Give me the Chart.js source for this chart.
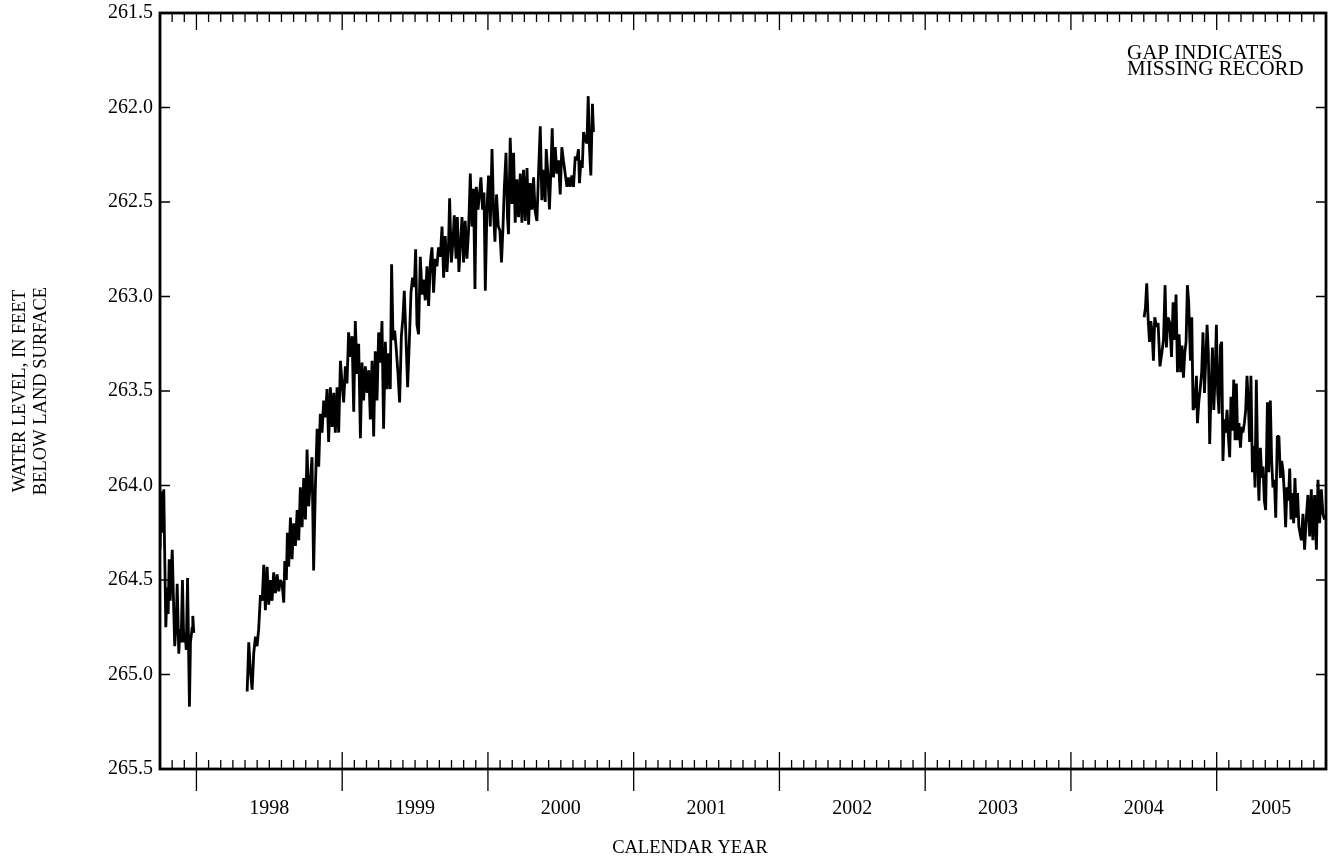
<!DOCTYPE html>
<html>
<head>
<meta charset="utf-8">
<title>Water level hydrograph</title>
<script src="https://cdn.jsdelivr.net/npm/chart.js@4.4.1/dist/chart.umd.min.js"></script>
<style>
  html, body { margin: 0; padding: 0; background: #fff; }
  #chart { display: block; }
</style>
</head>
<body>
<canvas id="chart" width="1328" height="863"></canvas>
<script>
// Record pieces (decimal year, feet below land surface)
const seg1Years = [
  1997.750, 1997.758, 1997.765, 1997.776, 1997.781, 1997.790, 1997.799, 1997.806, 1997.813, 1997.820,
  1997.834, 1997.845, 1997.851, 1997.861, 1997.868, 1997.879, 1997.886, 1997.895, 1997.904, 1997.913,
  1997.923, 1997.930, 1997.939, 1997.952, 1997.959, 1997.971, 1997.975, 1997.982
];
const seg1Levels = [
  264.34, 264.03, 264.25, 264.02, 264.30, 264.75, 264.54, 264.68, 264.39, 264.61,
  264.34, 264.68, 264.85, 264.73, 264.52, 264.89, 264.76, 264.83, 264.50, 264.83,
  264.78, 264.87, 264.49, 265.17, 264.83, 264.75, 264.69, 264.78
];

const seg2Years = [
  1998.348, 1998.359, 1998.370, 1998.382, 1998.393, 1998.405, 1998.416, 1998.427, 1998.439, 1998.451,
  1998.462, 1998.473, 1998.485, 1998.496, 1998.508, 1998.519, 1998.530, 1998.542, 1998.554, 1998.565,
  1998.576, 1998.588, 1998.599, 1998.606, 1998.617, 1998.624, 1998.633, 1998.645, 1998.656, 1998.667,
  1998.679, 1998.691, 1998.702, 1998.713, 1998.725, 1998.736, 1998.748, 1998.759, 1998.770, 1998.782,
  1998.793, 1998.804, 1998.816, 1998.828, 1998.839, 1998.850, 1998.862, 1998.873, 1998.885, 1998.896,
  1998.907, 1998.919, 1998.931, 1998.942, 1998.953, 1998.965, 1998.976, 1998.988, 1998.999, 1999.010,
  1999.022, 1999.033, 1999.044, 1999.056, 1999.068, 1999.079, 1999.090, 1999.102, 1999.113, 1999.125,
  1999.136, 1999.147, 1999.159, 1999.171, 1999.182, 1999.193, 1999.205, 1999.216, 1999.227, 1999.239,
  1999.250, 1999.262, 1999.273, 1999.284, 1999.296, 1999.308, 1999.319, 1999.330, 1999.339, 1999.349,
  1999.360, 1999.371, 1999.383, 1999.394, 1999.406, 1999.417, 1999.426, 1999.435, 1999.449, 1999.461,
  1999.472, 1999.483, 1999.495, 1999.504, 1999.513, 1999.524, 1999.536, 1999.548, 1999.559, 1999.570,
  1999.582, 1999.593, 1999.605, 1999.616, 1999.627, 1999.639, 1999.650, 1999.661, 1999.673, 1999.685,
  1999.696, 1999.707, 1999.719, 1999.730, 1999.737, 1999.749, 1999.760, 1999.769, 1999.781, 1999.790,
  1999.801, 1999.810, 1999.822, 1999.833, 1999.844, 1999.856, 1999.867, 1999.879, 1999.890, 1999.901,
  1999.911, 1999.920, 1999.932, 1999.943, 1999.952, 1999.963, 1999.973, 1999.982, 1999.993, 2000.004,
  2000.016, 2000.028, 2000.039, 2000.048, 2000.059, 2000.071, 2000.082, 2000.093, 2000.103, 2000.112,
  2000.124, 2000.134, 2000.141, 2000.153, 2000.165, 2000.176, 2000.187, 2000.199, 2000.210, 2000.222,
  2000.233, 2000.244, 2000.256, 2000.268, 2000.279, 2000.290, 2000.302, 2000.313, 2000.324, 2000.336,
  2000.347, 2000.359, 2000.370, 2000.381, 2000.393, 2000.400, 2000.411, 2000.422, 2000.432, 2000.441,
  2000.450, 2000.462, 2000.473, 2000.484, 2000.496, 2000.507, 2000.518, 2000.530, 2000.542, 2000.553,
  2000.564, 2000.576, 2000.587, 2000.599, 2000.610, 2000.621, 2000.628, 2000.638, 2000.647, 2000.656,
  2000.667, 2000.679, 2000.688, 2000.697, 2000.706, 2000.717, 2000.724
];
const seg2Levels = [
  265.09, 264.83, 264.98, 265.08, 264.89, 264.80, 264.85, 264.76, 264.58, 264.61,
  264.42, 264.66, 264.43, 264.63, 264.50, 264.61, 264.46, 264.57, 264.47, 264.56,
  264.50, 264.52, 264.62, 264.40, 264.50, 264.25, 264.43, 264.17, 264.39, 264.20,
  264.32, 264.13, 264.29, 264.01, 264.22, 263.96, 264.18, 263.81, 264.11, 263.97,
  263.85, 264.45, 264.01, 263.70, 263.90, 263.62, 263.72, 263.55, 263.64, 263.49,
  263.77, 263.48, 263.69, 263.51, 263.72, 263.48, 263.72, 263.34, 263.46, 263.56,
  263.37, 263.46, 263.19, 263.32, 263.21, 263.61, 263.13, 263.41, 263.25, 263.75,
  263.35, 263.55, 263.37, 263.51, 263.39, 263.65, 263.34, 263.74, 263.29, 263.55,
  263.19, 263.35, 263.13, 263.70, 263.24, 263.49, 263.30, 263.49, 262.83, 263.23,
  263.18, 263.28, 263.41, 263.56, 263.21, 263.11, 262.97, 263.16, 263.48, 263.23,
  262.98, 262.90, 262.95, 262.75, 263.15, 263.20, 262.79, 262.99, 262.91, 263.02,
  262.84, 263.05, 262.82, 262.74, 262.98, 262.80, 262.84, 262.74, 262.79, 262.63,
  262.90, 262.68, 262.87, 262.72, 262.48, 262.82, 262.71, 262.57, 262.80, 262.58,
  262.87, 262.74, 262.58, 262.82, 262.60, 262.80, 262.65, 262.35, 262.63, 262.43,
  262.96, 262.42, 262.54, 262.45, 262.37, 262.54, 262.45, 262.97, 262.54, 262.36,
  262.63, 262.22, 262.56, 262.71, 262.46, 262.63, 262.65, 262.82, 262.64, 262.43,
  262.24, 262.58, 262.67, 262.16, 262.51, 262.24, 262.61, 262.38, 262.58, 262.35,
  262.61, 262.33, 262.60, 262.32, 262.62, 262.40, 262.54, 262.37, 262.55, 262.60,
  262.35, 262.10, 262.49, 262.33, 262.50, 262.22, 262.35, 262.54, 262.33, 262.11,
  262.37, 262.21, 262.35, 262.28, 262.46, 262.21, 262.28, 262.35, 262.42, 262.37,
  262.42, 262.36, 262.42, 262.26, 262.28, 262.22, 262.40, 262.28, 262.32, 262.13,
  262.17, 262.19, 261.94, 262.22, 262.36, 261.98, 262.13
];

const seg3Years = [
  2004.502, 2004.511, 2004.520, 2004.529, 2004.539, 2004.548, 2004.557, 2004.566, 2004.575, 2004.587,
  2004.598, 2004.611, 2004.623, 2004.635, 2004.646, 2004.655, 2004.666, 2004.678, 2004.690, 2004.701,
  2004.712, 2004.721, 2004.731, 2004.742, 2004.753, 2004.762, 2004.772, 2004.781, 2004.790, 2004.799,
  2004.808, 2004.820, 2004.829, 2004.838, 2004.849, 2004.861, 2004.868, 2004.877, 2004.888, 2004.897,
  2004.906, 2004.916, 2004.925, 2004.934, 2004.943, 2004.952, 2004.961, 2004.971, 2004.980, 2004.989,
  2004.998, 2005.007, 2005.016, 2005.026, 2005.034, 2005.043, 2005.053, 2005.062, 2005.071, 2005.080,
  2005.089, 2005.098, 2005.108, 2005.117, 2005.126, 2005.135, 2005.144, 2005.153, 2005.163, 2005.172,
  2005.180, 2005.190, 2005.199, 2005.208, 2005.217, 2005.226, 2005.235, 2005.245, 2005.254, 2005.263,
  2005.272, 2005.281, 2005.290, 2005.300, 2005.309, 2005.318, 2005.327, 2005.336, 2005.348, 2005.357,
  2005.368, 2005.377, 2005.386, 2005.396, 2005.405, 2005.416, 2005.427, 2005.437, 2005.446, 2005.455,
  2005.464, 2005.473, 2005.482, 2005.492, 2005.501, 2005.510, 2005.519, 2005.528, 2005.537, 2005.547,
  2005.555, 2005.564, 2005.581, 2005.592, 2005.603, 2005.615, 2005.626, 2005.638, 2005.649, 2005.660,
  2005.672, 2005.684, 2005.695, 2005.706, 2005.718, 2005.729, 2005.740
];
const seg3Levels = [
  263.11, 263.06, 262.93, 263.11, 263.24, 263.13, 263.19, 263.34, 263.11, 263.16,
  263.14, 263.37, 263.30, 263.23, 262.94, 263.27, 263.11, 263.14, 263.32, 263.03,
  263.23, 262.99, 263.40, 263.20, 263.40, 263.26, 263.43, 263.30, 263.24, 262.94,
  263.03, 263.34, 263.11, 263.60, 263.58, 263.42, 263.67, 263.56, 263.48, 263.40,
  263.19, 263.51, 263.34, 263.15, 263.30, 263.78, 263.51, 263.27, 263.60, 263.42,
  263.15, 263.51, 263.62, 263.26, 263.24, 263.87, 263.65, 263.72, 263.60, 263.74,
  263.85, 263.53, 263.71, 263.44, 263.76, 263.46, 263.76, 263.67, 263.80, 263.69,
  263.72, 263.67, 263.60, 263.42, 263.56, 263.77, 263.42, 263.93, 263.79, 264.01,
  263.44, 263.87, 264.08, 263.80, 263.96, 263.90, 264.08, 264.13, 263.56, 263.93,
  263.55, 263.87, 264.01, 263.97, 264.17, 263.74, 263.74, 263.96, 263.87, 263.92,
  264.04, 264.22, 264.01, 264.08, 263.91, 264.18, 264.04, 264.20, 263.96, 264.17,
  264.04, 264.22, 264.29, 264.15, 264.34, 264.17, 264.05, 264.27, 264.02, 264.29,
  264.05, 264.34, 263.97, 264.20, 264.02, 264.15, 264.18
];

// Axis ranges and labels
const xStart = 1997.75;
const xEnd = 2005.75;
const yTicks = [261.5, 262.0, 262.5, 263.0, 263.5, 264.0, 264.5, 265.0, 265.5];
const yearLabels = [1998, 1999, 2000, 2001, 2002, 2003, 2004, 2005];

const serif = '"Liberation Serif", "Times New Roman", serif';

function toPoints(years, levels) {
  return years.map((x, i) => ({ x, y: levels[i] }));
}

function lineSet(years, levels) {
  return {
    data: toPoints(years, levels),
    borderColor: '#000',
    borderWidth: 2.8,
    borderJoinStyle: 'bevel',
    pointRadius: 0,
    tension: 0,
    fill: false
  };
}

// Frame, month ticks, tick labels and titles (hydrograph style)
const hydroAxes = {
  id: 'hydroAxes',
  afterDatasetsDraw(chart) {
    const { ctx, chartArea: a } = chart;
    const xs = chart.scales.x;
    const ys = chart.scales.y;
    ctx.save();
    ctx.strokeStyle = '#000';
    ctx.fillStyle = '#000';

    // monthly ticks, longer at each January
    ctx.lineWidth = 1.3;
    ctx.beginPath();
    for (let m = 1; m < 96; m++) {
      const v = xStart + m / 12;
      const px = xs.getPixelForValue(v);
      const major = Math.abs(v - Math.round(v)) < 1e-6;
      ctx.moveTo(px, a.top);
      ctx.lineTo(px, a.top + (major ? 17 : 9));
      ctx.moveTo(px, major ? a.bottom + 22 : a.bottom);
      ctx.lineTo(px, a.bottom - (major ? 17 : 9));
    }
    // level ticks on both sides
    yTicks.forEach((v) => {
      const py = ys.getPixelForValue(v);
      ctx.moveTo(a.left, py);
      ctx.lineTo(a.left + 10, py);
      ctx.moveTo(a.right - 10, py);
      ctx.lineTo(a.right, py);
    });
    ctx.stroke();

    // border
    ctx.lineWidth = 2.8;
    ctx.strokeRect(a.left, a.top, a.right - a.left, a.bottom - a.top);

    // level labels
    ctx.font = `20px ${serif}`;
    ctx.textAlign = 'right';
    ctx.textBaseline = 'middle';
    yTicks.forEach((v) => {
      ctx.fillText(v.toFixed(1), a.left - 7, ys.getPixelForValue(v));
    });

    // year labels centred on the visible part of each year
    ctx.textAlign = 'center';
    yearLabels.forEach((yr) => {
      const mid = (Math.max(yr, xStart) + Math.min(yr + 1, xEnd)) / 2;
      ctx.fillText(String(yr), xs.getPixelForValue(mid), a.bottom + 40);
    });

    ctx.font = `18.5px ${serif}`;
    ctx.fillText('CALENDAR YEAR', 690, 848);

    // y title, two lines
    const midY = (a.top + a.bottom) / 2;
    [['WATER LEVEL, IN FEET', 20], ['BELOW LAND SURFACE', 41]].forEach(([txt, x]) => {
      ctx.save();
      ctx.translate(x, midY);
      ctx.rotate(-Math.PI / 2);
      ctx.fillText(txt, 0, 0);
      ctx.restore();
    });

    // note
    ctx.font = `21px ${serif}`;
    ctx.textAlign = 'left';
    ctx.textBaseline = 'alphabetic';
    ctx.fillText('GAP INDICATES', 1127, 59);
    ctx.fillText('MISSING RECORD', 1127, 75);

    ctx.restore();
  }
};

new Chart(document.getElementById('chart'), {
  type: 'line',
  data: {
    datasets: [
      lineSet(seg1Years, seg1Levels),
      lineSet(seg2Years, seg2Levels),
      lineSet(seg3Years, seg3Levels)
    ]
  },
  options: {
    responsive: false,
    devicePixelRatio: 1,
    animation: false,
    events: [],
    layout: { padding: { left: 160, top: 13, right: 2, bottom: 94 } },
    scales: {
      x: { type: 'linear', min: xStart, max: xEnd, display: false },
      y: { type: 'linear', min: 261.5, max: 265.5, reverse: true, display: false }
    },
    plugins: { legend: { display: false }, tooltip: { enabled: false } }
  },
  plugins: [hydroAxes]
});
</script>
</body>
</html>
